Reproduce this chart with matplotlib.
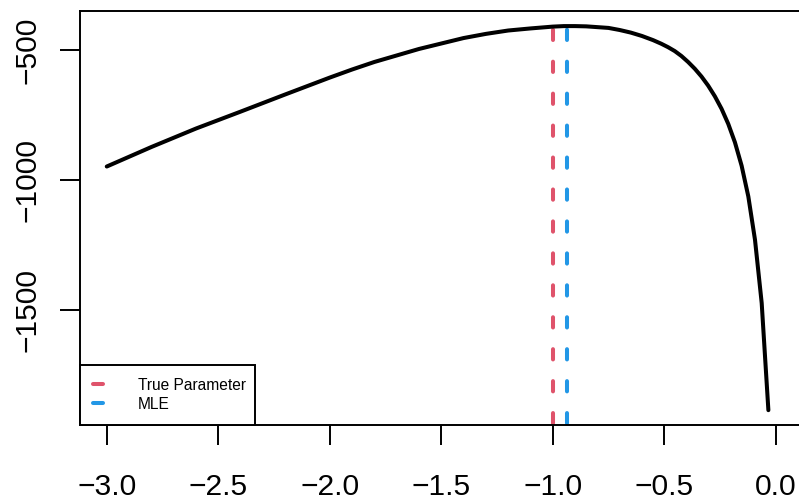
import matplotlib
matplotlib.use("Agg")
import matplotlib.pyplot as plt
from matplotlib.lines import Line2D

plt.rcParams['font.family'] = ['Liberation Sans', 'DejaVu Sans']
plt.rcParams['lines.scale_dashes'] = False

# Log-likelihood profile over the parameter grid
theta = [-3.00, -2.80, -2.60, -2.40, -2.20, -2.00, -1.90, -1.80, -1.70,
         -1.60, -1.50, -1.40, -1.30, -1.20, -1.10, -1.00, -0.95, -0.90,
         -0.85, -0.80, -0.75, -0.70, -0.65, -0.60, -0.55, -0.513, -0.483,
         -0.453, -0.423, -0.393, -0.363, -0.333, -0.303, -0.273, -0.243,
         -0.213, -0.183, -0.153, -0.123, -0.093, -0.063, -0.033]
loglik = [-948, -873, -802, -737, -671, -606, -575, -546, -521,
          -496, -475, -454, -438, -425, -417, -410, -408, -408,
          -409, -412, -415, -423, -433, -446, -462, -476, -489,
          -504, -523, -546, -572, -602, -637, -678, -726,
          -784, -855, -945, -1063, -1230, -1473, -1885]

true_param = -1.0
mle = -0.934

x_ticks = [-3.0, -2.5, -2.0, -1.5, -1.0, -0.5, 0.0]
y_ticks = [-500, -1000, -1500]
legend_labels = ["True Parameter", "MLE"]

red = "#DF536B"
blue = "#2297E6"

W, H = 799, 500
fig = plt.figure(figsize=(W / 100, H / 100), dpi=100)
ax = fig.add_axes([80 / W, 75 / H, 722.5 / W, 414.3 / H])

ax.plot(theta, loglik, color="black", lw=2.9, solid_capstyle="round",
        solid_joinstyle="round", zorder=3)

dash = (21.8, (7.4, 15.6))
ax.axvline(true_param, color=red, lw=2.9, linestyle=dash,
           dash_capstyle="round", zorder=2)
ax.axvline(mle, color=blue, lw=2.9, linestyle=dash,
           dash_capstyle="round", zorder=2)

ax.set_xlim(-3.12, 0.12)
ax.set_ylim(-1942, -348.8)

ax.set_xticks(x_ticks)
ax.set_xticklabels([f"{v:.1f}".replace("-", "\u2212") for v in x_ticks])
ax.set_yticks(y_ticks)
ax.set_yticklabels([str(v).replace("-", "\u2212") for v in y_ticks],
                   rotation=90, va="center")

ax.tick_params(axis="x", length=14.4, width=1.4, pad=20, labelsize=21.6)
ax.tick_params(axis="y", length=14.4, width=1.4, pad=13.5, labelsize=21.6)
for s in ax.spines.values():
    s.set_linewidth(1.4)

handles = [Line2D([0], [0], color=red, lw=2.9, solid_capstyle="round"),
           Line2D([0], [0], color=blue, lw=2.9, solid_capstyle="round")]
leg = ax.legend(handles, legend_labels, loc="lower left",
                bbox_to_anchor=(0, 0, 175 / 722.5, 0.2), mode="expand",
                borderaxespad=0, fontsize=11.2, handlelength=0.65,
                handletextpad=2.2, borderpad=0.85, labelspacing=0.25,
                fancybox=False, framealpha=1, edgecolor="black")
leg.get_frame().set_linewidth(1.4)

fig.savefig("out.png", dpi=100)
